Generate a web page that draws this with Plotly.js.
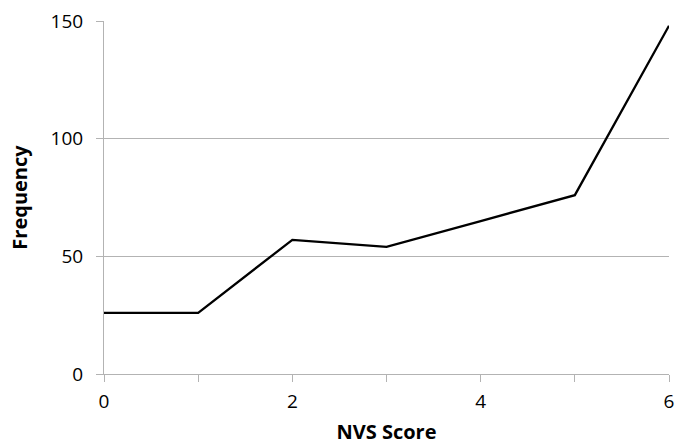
<!DOCTYPE html>
<html>
<head>
<meta charset="utf-8">
<script src="https://cdn.plot.ly/plotly-3.0.1.min.js"></script>
<style>html,body{margin:0;padding:0;background:#fff;}#chart{width:676px;height:445px;}</style>
</head>
<body>
<div id="chart"></div>
<script>
const nvsScores = [0, 1, 2, 3, 4, 5, 6];
const frequencies = [26, 26, 57, 54, 65, 76, 148];
const xTickVals = [0, 1, 2, 3, 4, 5, 6];
const xTickText = ['0', '', '2', '', '4', '', '6'];
const yTickVals = [0, 50, 100, 150];
const xTitle = 'NVS Score';
const yTitle = 'Frequency';

const font = 'Open Sans, Lato, Liberation Sans, sans-serif';
const gray = '#b3b3b3';

Plotly.newPlot('chart', [{
  x: nvsScores,
  y: frequencies,
  type: 'scatter',
  mode: 'lines',
  line: {color: '#000000', width: 2.3},
  hoverinfo: 'none'
}], {
  width: 676,
  height: 445,
  margin: {l: 104, r: 7, t: 21, b: 71},
  paper_bgcolor: '#ffffff',
  plot_bgcolor: '#ffffff',
  showlegend: false,
  font: {family: font, color: '#000000', size: 18},
  xaxis: {
    range: [0, 6],
    tickmode: 'array',
    tickvals: xTickVals,
    ticktext: xTickText,
    ticks: 'outside',
    ticklen: 7,
    tickwidth: 1,
    tickcolor: gray,
    showline: true,
    linecolor: gray,
    linewidth: 1,
    showgrid: false,
    zeroline: false,
    ticklabelstandoff: 3,
    tickfont: {family: font, size: 19, color: '#000'},
    title: {text: xTitle, font: {family: font, size: 20, color: '#000', weight: 'bold'}, standoff: 16},
    automargin: false,
    fixedrange: true
  },
  yaxis: {
    range: [0, 150],
    tickmode: 'array',
    tickvals: yTickVals,
    ticks: 'outside',
    ticklen: 7,
    tickwidth: 1,
    tickcolor: gray,
    showline: true,
    linecolor: gray,
    linewidth: 1,
    showgrid: true,
    gridcolor: gray,
    gridwidth: 1,
    zeroline: false,
    ticklabelstandoff: 9,
    tickfont: {family: font, size: 19, color: '#000'},
    title: {text: yTitle, font: {family: font, size: 20, color: '#000', weight: 'bold'}, standoff: 17},
    automargin: false,
    fixedrange: true
  }
}, {displayModeBar: false, staticPlot: true});
</script>
</body>
</html>
